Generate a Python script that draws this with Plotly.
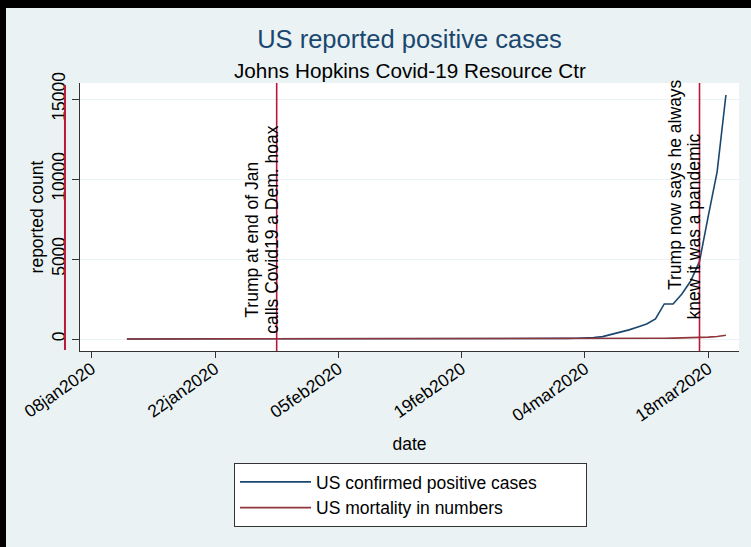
import pandas as pd
import plotly.graph_objects as go

# ---------------- data ----------------
dates = pd.date_range("2020-01-12", "2020-03-20", freq="D")

cases = [
    0, 0, 0, 0, 0, 0, 0, 0, 0, 0,                     # Jan 12-21
    1, 1, 2, 2, 5, 5, 5, 5, 5, 7,                     # Jan 22-31
    8, 8, 11, 11, 11, 11, 11, 11, 11, 11,             # Feb 1-10
    12, 12, 13, 13, 13, 13, 13, 13, 13, 13,           # Feb 11-20
    15, 15, 15, 20, 25, 30, 30, 30, 30,               # Feb 21-29
    30, 40, 50, 60, 90, 150, 280, 400, 570, 750,      # Mar 1-10
    940, 1250, 2190, 2190, 2810, 3625, 4850, 7690, 10440, 15250,  # Mar 11-20
]
deaths = [0] * 48 + [1] + [
    1, 6, 9, 11, 12, 14, 17, 21, 22, 28,
    36, 40, 47, 54, 63, 85, 108, 118, 160, 230,
]
series_names = ["US confirmed positive cases", "US mortality in numbers"]

event_dates = ["2020-01-29", "2020-03-17"]
event_lines = [
    ["Trump at end of Jan", "calls Covid19 a Dem. hoax"],
    ["Trump now says he always", "knew it was a pandemic"],
]

xtick_dates = ["2020-01-08", "2020-01-22", "2020-02-05", "2020-02-19", "2020-03-04", "2020-03-18"]
xtick_text = ["08jan2020", "22jan2020", "05feb2020", "19feb2020", "04mar2020", "18mar2020"]
ytick_vals = [0, 5000, 10000, 15000]
ytick_text = ["0", "5000", "10000", "15000"]

# ---------------- styles ----------------
FONT = "Liberation Sans, Arial, sans-serif"
BG = "#eaf2f3"
NAVY = "#1a476f"
MAROON = "#90353b"
VLINE = "#b8193a"
FS = 17.5
PAD = "\u00a0" * 9  # widens the legend box like the original

fig = go.Figure()
fig.add_trace(go.Scatter(x=dates, y=cases, mode="lines", name=series_names[0] + PAD,
                         line=dict(color=NAVY, width=1.6)))
fig.add_trace(go.Scatter(x=dates, y=deaths, mode="lines", name=series_names[1],
                         line=dict(color=MAROON, width=1.6)))

shapes = []
annotations = []
# event lines with rotated two-line notes
line_y = [[0.1157, 0.056], [0.220, 0.108]]
for d, lines, ys in zip(event_dates, event_lines, line_y):
    shapes.append(dict(type="line", xref="x", yref="paper", x0=d, x1=d, y0=0, y1=1,
                       line=dict(color=VLINE, width=1.6)))
    for txt, yy, shift in zip(lines, ys, [-25, -5]):
        annotations.append(dict(text=txt, x=d, xref="x", y=yy, yref="paper",
                                xanchor="center", yanchor="bottom", xshift=shift,
                                textangle=-90, showarrow=False,
                                font=dict(family=FONT, size=FS, color="black")))

# stray red line left of the y axis (as in the source image)
shapes.append(dict(type="line", xref="paper", yref="paper", x0=-0.0228, x1=-0.0228,
                   y0=0.004, y1=0.993, line=dict(color=VLINE, width=2)))
# black frame strips (top and left)
shapes.append(dict(type="rect", xref="paper", yref="paper", x0=-0.13, x1=1.05,
                   y0=(351 - 8) / 268, y1=1.32, line=dict(width=0), fillcolor="black"))
shapes.append(dict(type="rect", xref="paper", yref="paper", x0=-0.13, x1=(6 - 80) / 659,
                   y0=-0.8, y1=1.32, line=dict(width=0), fillcolor="black"))

# subtitle
annotations.append(dict(text="Johns Hopkins Covid-19 Resource Ctr", x=0.5, xref="paper",
                        y=(351 - 70) / 268, yref="paper", xanchor="center", yanchor="middle",
                        showarrow=False, font=dict(family=FONT, size=20.7, color="black")))

fig.update_layout(
    width=751, height=547,
    margin=dict(l=80, r=12, t=83, b=196, pad=0),
    paper_bgcolor=BG, plot_bgcolor="white",
    font=dict(family=FONT, size=FS, color="black"),
    title=dict(text="US reported positive cases", x=0.5, xref="paper", xanchor="center",
               y=1 - 39 / 547, yref="container", yanchor="middle",
               font=dict(family=FONT, size=25.5, color=NAVY)),
    xaxis=dict(type="date", range=["2020-01-06 16:08", "2020-03-21 11:38"],
               tickvals=xtick_dates, ticktext=xtick_text, tickangle=-35,
               ticks="outside", ticklen=6, tickcolor="#333333", tickwidth=1,
               ticklabelstandoff=-6,
               showline=True, linecolor="#333333", linewidth=1, showgrid=False,
               zeroline=False, tickfont=dict(family=FONT, size=FS, color="black"),
               title=dict(text="date", standoff=13, font=dict(family=FONT, size=FS, color="black"))),
    yaxis=dict(range=[-750, 16000], tickvals=ytick_vals, ticktext=ytick_text, tickangle=-90,
               ticks="outside", ticklen=7, tickcolor="#333333", tickwidth=1,
               showline=True, linecolor="#333333", linewidth=1,
               showgrid=True, gridcolor=BG, gridwidth=1, zeroline=False,
               tickfont=dict(family=FONT, size=FS, color="black"),
               title=dict(text="reported count", standoff=0, font=dict(family=FONT, size=FS, color="black"))),
    showlegend=True,
    legend=dict(x=(234 - 80) / 659, y=(351 - 463) / 268, xanchor="left", yanchor="top",
                xref="paper", yref="paper", bgcolor="white", bordercolor="#333333", borderwidth=1,
                font=dict(family=FONT, size=FS, color="black"), itemwidth=71,
                tracegroupgap=0),
    shapes=shapes, annotations=annotations,
)

fig.write_html("out.html", config={"displayModeBar": False},
               post_script="document.body.style.margin='0';document.body.style.overflow='hidden';")
